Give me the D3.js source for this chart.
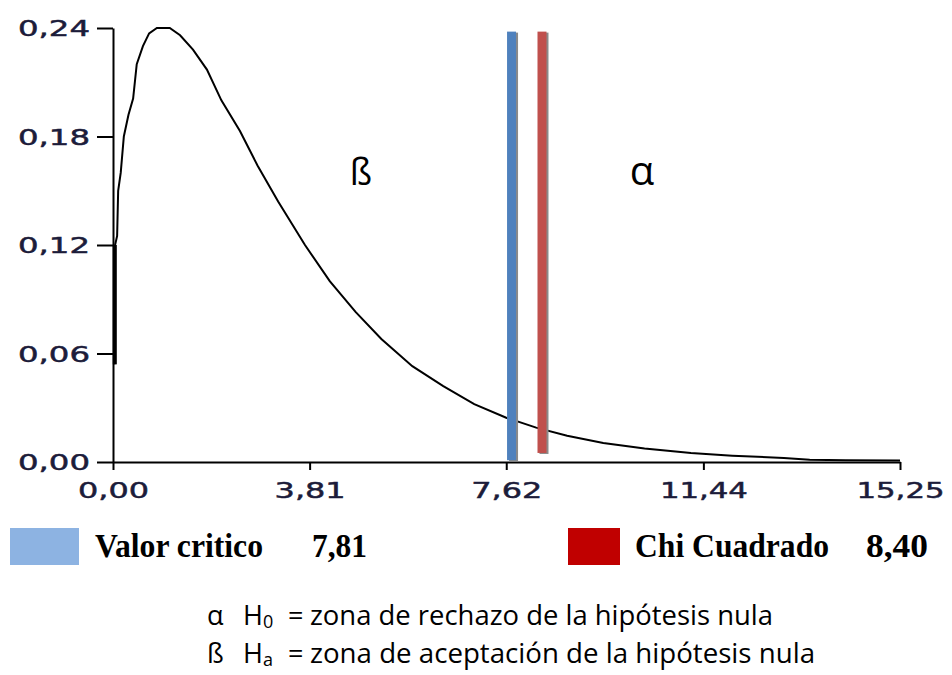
<!DOCTYPE html>
<html>
<head>
<meta charset="utf-8">
<script src="https://cdn.jsdelivr.net/npm/d3@7"></script>
<style>
  body { margin: 0; background: #fff; }
</style>
</head>
<body>
<svg id="chart" width="952" height="675"></svg>
<script>
// curve (x, density)
var curveX = [0.03, 0.04, 0.08, 0.10, 0.15, 0.21, 0.30, 0.39, 0.46, 0.58, 0.70, 0.85, 1.10, 1.30, 1.55, 1.82,
              2.10, 2.46, 2.80, 3.20, 3.72, 4.20, 4.70, 5.20, 5.80, 6.40, 7.00, 7.62, 8.20, 8.80, 9.50, 10.3,
              11.2, 12.0, 13.0, 13.5, 14.2, 15.25];
var curveY = [0.054, 0.120, 0.125, 0.150, 0.160, 0.180, 0.192, 0.201, 0.220, 0.230, 0.237, 0.240, 0.240, 0.236, 0.228, 0.217,
              0.200, 0.183, 0.164, 0.144, 0.120, 0.100, 0.083, 0.068, 0.053, 0.042, 0.032, 0.0245, 0.019, 0.0145, 0.0105, 0.0075,
              0.005, 0.0035, 0.0022, 0.0012, 0.0010, 0.0008];

var xTicks = [0, 3.81, 7.62, 11.44, 15.25];
var xTickLabels = ["0,00", "3,81", "7,62", "11,44", "15,25"];
var yTicks = [0, 0.06, 0.12, 0.18, 0.24];
var yTickLabels = ["0,00", "0,06", "0,12", "0,18", "0,24"];

// vertical markers
var markerNames = ["Valor critico", "Chi Cuadrado"];
var markerValues = [7.81, 8.40];
var markerLabels = ["7,81", "8,40"];
var markerTop = [0.238, 0.238];
var markerBottom = [0.001, 0.005];

var svg = d3.select("#chart");

var x = d3.scaleLinear().domain([0, 15.25]).range([113, 900]);
var y = d3.scaleLinear().domain([0, 0.24]).range([462, 28]);

var tickFont = "'DejaVu Sans', Verdana, sans-serif";

// x axis
var xAxis = d3.axisBottom(x)
    .tickValues(xTicks)
    .tickSize(8)
    .tickSizeOuter(0)
    .tickFormat(function(d, i) { return xTickLabels[i]; });

var gx = svg.append("g")
    .attr("transform", "translate(0," + y(0) + ")")
    .call(xAxis);
gx.select(".domain").attr("stroke", "#000").attr("stroke-width", 2);
gx.selectAll(".tick line").attr("stroke", "#000").attr("stroke-width", 2);
gx.selectAll(".tick text")
    .attr("y", 36)
    .attr("dy", 0)
    .attr("fill", "#1c1c3a")
    .attr("stroke", "#1c1c3a")
    .attr("stroke-width", 0.5)
    .style("font-family", tickFont)
    .style("font-size", "22px")
    .attr("textLength", function(d, i) { return xTickLabels[i].length == 4 ? 71 : 88; })
    .attr("lengthAdjust", "spacingAndGlyphs");

// y axis
var yAxis = d3.axisLeft(y)
    .tickValues(yTicks)
    .tickSize(16)
    .tickSizeOuter(0)
    .tickFormat(function(d, i) { return yTickLabels[i]; });

var gy = svg.append("g")
    .attr("transform", "translate(" + x(0) + ",0)")
    .call(yAxis);
gy.select(".domain").attr("stroke", "#000").attr("stroke-width", 2);
gy.selectAll(".tick line").attr("stroke", "#000").attr("stroke-width", 2);
gy.selectAll(".tick text")
    .attr("x", -23)
    .attr("dy", "0.36em")
    .attr("fill", "#1c1c3a")
    .attr("stroke", "#1c1c3a")
    .attr("stroke-width", 0.5)
    .style("font-family", tickFont)
    .style("font-size", "22px")
    .attr("textLength", 72)
    .attr("lengthAdjust", "spacingAndGlyphs");

// density curve
var pts = curveX.map(function(d, i) { return [d, curveY[i]]; });
var line = d3.line()
    .x(function(d) { return x(d[0]); })
    .y(function(d) { return y(d[1]); });

svg.append("path")
    .datum(pts)
    .attr("fill", "none")
    .attr("stroke", "#000")
    .attr("stroke-width", 2)
    .attr("d", line);

// thick start of the curve
svg.append("line")
    .attr("x1", x(0.035)).attr("x2", x(0.035))
    .attr("y1", y(curveY[0])).attr("y2", y(curveY[1]))
    .attr("stroke", "#000")
    .attr("stroke-width", 4);

// vertical bars (with a little shadow)
var barColor = ["#4f81bd", "#c0504d"];
var barW = 9;
svg.selectAll(".shadow")
    .data(markerValues)
    .enter().append("rect")
      .attr("class", "shadow")
      .attr("x", function(d) { return x(d) - barW + 2; })
      .attr("y", function(d, i) { return y(markerTop[i]) + 1; })
      .attr("width", barW)
      .attr("height", function(d, i) { return y(markerBottom[i]) - y(markerTop[i]); })
      .attr("fill", "#8a8a8a");

svg.selectAll(".bar")
    .data(markerValues)
    .enter().append("rect")
      .attr("class", "bar")
      .attr("x", function(d) { return x(d) - barW; })
      .attr("y", function(d, i) { return y(markerTop[i]); })
      .attr("width", barW)
      .attr("height", function(d, i) { return y(markerBottom[i]) - y(markerTop[i]); })
      .attr("fill", function(d, i) { return barColor[i]; });

// greek letters in the plot
var greekFont = "'Open Sans', 'Noto Sans', sans-serif";
svg.append("text")
    .attr("x", 361).attr("y", 185)
    .attr("text-anchor", "middle")
    .style("font-family", greekFont)
    .style("font-size", "36px")
    .text("ß");
svg.append("text")
    .attr("x", 642).attr("y", 185)
    .attr("text-anchor", "middle")
    .style("font-family", greekFont)
    .style("font-size", "40px")
    .text("α");

// legend
var legendFont = "'Liberation Serif', 'Times New Roman', serif";
var legend = [
  {box: [10, 69], color: "#8db3e2", tx: 95, tw: 168, vx: 312, vw: 55},
  {box: [568, 52], color: "#c00000", tx: 635, tw: 194, vx: 866, vw: 62}
];
legend.forEach(function(l, i) {
  svg.append("rect")
      .attr("x", l.box[0]).attr("y", 528)
      .attr("width", l.box[1]).attr("height", 37)
      .attr("fill", l.color);
  svg.append("text")
      .attr("x", l.tx).attr("y", 557)
      .style("font-family", legendFont)
      .style("font-weight", "bold")
      .style("font-size", "33px")
      .attr("textLength", l.tw)
      .attr("lengthAdjust", "spacingAndGlyphs")
      .text(markerNames[i]);
  svg.append("text")
      .attr("x", l.vx).attr("y", 557)
      .style("font-family", legendFont)
      .style("font-weight", "bold")
      .style("font-size", "33px")
      .attr("textLength", l.vw)
      .attr("lengthAdjust", "spacingAndGlyphs")
      .text(markerLabels[i]);
});

// notes at the bottom
var notes = [
  {sym: "α", sub: "0", text: "zona de rechazo de la hipótesis nula", y: 625, w: 463},
  {sym: "ß", sub: "a", text: "zona de aceptación de la hipótesis nula", y: 663, w: 505}
];
var noteFont = "'Open Sans', 'Noto Sans', sans-serif";
notes.forEach(function(n) {
  svg.append("text")
      .attr("x", 207).attr("y", n.y)
      .style("font-family", noteFont)
      .style("font-size", "27px")
      .text(n.sym);
  var h = svg.append("text")
      .attr("x", 243).attr("y", n.y)
      .style("font-family", noteFont)
      .style("font-size", "27px");
  h.append("tspan").text("H");
  h.append("tspan").attr("dy", 3).style("font-size", "18px").text(n.sub);
  svg.append("text")
      .attr("x", 288).attr("y", n.y)
      .style("font-family", noteFont)
      .style("font-size", "27px")
      .text("=");
  svg.append("text")
      .attr("x", 310).attr("y", n.y)
      .style("font-family", noteFont)
      .style("font-size", "27px")
      .attr("textLength", n.w)
      .attr("lengthAdjust", "spacingAndGlyphs")
      .text(n.text);
});
</script>
</body>
</html>
